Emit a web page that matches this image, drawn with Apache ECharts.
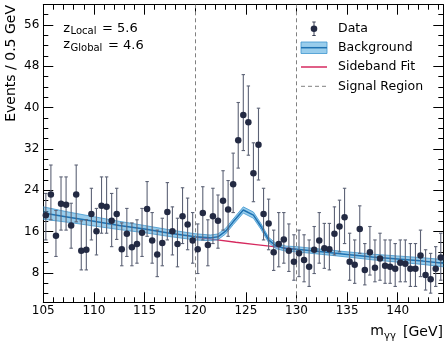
<!DOCTYPE html>
<html>
<head>
<meta charset="utf-8">
<script src="https://cdn.jsdelivr.net/npm/echarts@6/dist/echarts.min.js"></script>
<style>
  html, body { margin: 0; padding: 0; background: #fff; }
  #chart { width: 448px; height: 344px; }
</style>
</head>
<body>
<div id="chart"></div>
<script>
// diphoton mass spectrum, 0.5 GeV bins
const massBins = [105.25,105.75,106.25,106.75,107.25,107.75,108.25,108.75,109.25,109.75,
  110.25,110.75,111.25,111.75,112.25,112.75,113.25,113.75,114.25,114.75,
  115.25,115.75,116.25,116.75,117.25,117.75,118.25,118.75,119.25,119.75,
  120.25,120.75,121.25,121.75,122.25,122.75,123.25,123.75,124.25,124.75,
  125.25,125.75,126.25,126.75,127.25,127.75,128.25,128.75,129.25,129.75,
  130.25,130.75,131.25,131.75,132.25,132.75,133.25,133.75,134.25,134.75,
  135.25,135.75,136.25,136.75,137.25,137.75,138.25,138.75,139.25,139.75,
  140.25,140.75,141.25,141.75,142.25,142.75,143.25,143.75,144.25]
const events = [19.2,23.2,15.2,21.4,21.2,17.2,23.2,12.3,12.5,19.4,
  16.1,21.0,20.8,18.1,19.4,12.6,15.6,13.0,13.6,15.8,
  20.4,14.3,11.6,13.8,19.8,16.1,13.6,19.0,17.4,14.3,
  12.6,19.6,13.4,19.0,18.1,22.0,20.3,25.2,33.7,38.6,
  37.2,27.3,32.8,19.4,17.6,12.0,13.6,14.5,12.3,10.2,
  11.8,10.5,9.2,12.5,14.3,12.8,12.6,15.6,17.0,18.8,
  10.2,9.6,16.5,8.6,12.0,9.0,10.8,9.4,9.2,8.8,
  10.0,9.8,8.8,8.8,11.4,7.6,6.8,8.8,11.0]
const errLow = [14.4,18.3,11.2,16.3,16.3,12.8,17.9,8.6,8.6,14.4,
  11.5,15.7,15.7,13.1,14.5,9.4,11.2,9.4,9.9,11.2,
  15.1,9.9,7.3,9.4,14.4,11.5,9.2,13.7,12.5,9.9,
  7.9,14.4,9.4,13.7,12.8,16.3,15.1,19.7,28.3,31.7,
  30.8,21.8,26.0,14.4,12.5,8.5,9.2,9.9,8.3,6.6,
  7.3,6.3,5.4,7.9,9.9,8.9,8.6,11.5,12.1,13.7,
  6.6,6.0,11.8,5.7,7.6,6.3,6.6,6.0,6.0,5.4,
  6.3,6.3,5.4,5.4,7.3,4.7,4.1,5.4,6.6]
const errHigh = [23.4,28.9,20.1,26.6,26.6,21.5,28.9,18.1,18.3,24.4,
  20.5,26.6,26.6,23.4,24.4,17.7,20.5,17.7,18.3,20.5,
  25.7,19.7,16.3,18.6,25.5,20.8,18.6,24.5,22.5,19.7,
  17.5,24.7,18.3,24.4,23.1,27.8,25.9,31.2,41.0,46.4,
  44.2,33.2,39.9,24.4,22.3,16.3,19.7,19.7,17.5,15.4,
  16.3,15.4,14.4,17.0,19.7,17.6,17.6,20.8,22.1,24.4,
  15.7,14.4,21.0,13.7,17.0,14.4,15.7,14.4,14.4,13.7,
  14.4,14.4,13.7,13.7,16.3,12.5,11.8,13.1,15.7]

// background model (signal + continuum) with its uncertainty band
const bgMass = [105,107.5,110,112.5,115,117.5,120,121.5,122.25,123,123.75,124.75,125.75,126.5,127.25,128,129,130,132.5,135,137.5,140,142.5,144.5]
const bgCentral = [19.6,18.8,18.0,17.2,16.5,15.7,15.0,14.8,15.0,16.1,17.9,20.2,19.2,17.0,14.4,13.2,12.7,12.6,12.1,11.6,11.1,10.7,10.3,9.9]
const bgLow = [18.4,17.8,17.1,16.4,15.8,15.05,14.4,14.25,14.45,15.55,17.35,19.6,18.6,16.45,13.9,12.7,12.2,12.1,11.6,11.1,10.55,10.1,9.65,9.2]
const bgHigh = [20.8,19.8,18.9,18.0,17.2,16.35,15.6,15.35,15.55,16.65,18.45,20.8,19.8,17.55,14.9,13.7,13.2,13.1,12.6,12.1,11.65,11.3,10.95,10.6]

// sideband-only fit inside the signal window
const sbMass = [120,122,124,126,128,130]
const sbFit = [14.95,14.45,13.95,13.5,13.05,12.6]

const signalEdges = [120, 130]

const xTicks = [105,110,115,120,125,130,135,140]
const xMinorTicks = [106,107,108,109,111,112,113,114,116,117,118,119,121,122,123,124,126,127,128,129,131,132,133,134,136,137,138,139,141,142,143,144]
const yTicks = [8,16,24,32,40,48,56]
const yMinorTicks = [4,6,10,12,14,18,20,22,26,28,30,34,36,38,42,44,46,50,52,54,58]

const X_MIN = 105, X_MAX = 144.5
const Y_MIN = 2.33, Y_MAX = 59.93
const FONT = '"DejaVu Sans"'
const BLUE = '#1f72b2'
const BAND = 'rgba(80, 168, 222, 0.58)'
const BAND_EDGE = '#3c95cf'
const RED = '#d62a5f'
const DOT = '#232a43'
const BAR = '#5d6376'

function makeAxis(kind, position, ticks, len, withLabels, withLine) {
  const ax = {
    type: 'value',
    position,
    min: kind === 'x' ? X_MIN : Y_MIN,
    max: kind === 'x' ? X_MAX : Y_MAX,
    splitLine: { show: false },
    axisLine: { show: withLine, onZero: false, lineStyle: { color: '#000', width: 1 } },
    axisTick: {
      show: true, inside: true, length: len, customValues: ticks,
      lineStyle: { color: '#000', width: 1 },
    },
    axisLabel: { show: false },
  }
  if (withLabels) {
    ax.axisLabel = {
      show: true, customValues: ticks, color: '#000',
      fontFamily: 'DejaVu Sans', fontSize: 12, margin: kind === 'x' ? 3 : 4,
    }
  }
  return ax
}

const chart = echarts.init(document.getElementById('chart'), null, { renderer: 'canvas' })

function txt(text, x, y, size, align, valign, extra) {
  return Object.assign({
    type: 'text', x, y, silent: true,
    style: {
      text, fill: '#000', font: size + 'px ' + FONT,
      align, textAlign: align, verticalAlign: valign, textVerticalAlign: valign,
    },
  }, extra || {})
}

const legendX = 301, legendW = 26, legendTextX = 338
const graphics = [
  // legend: data marker
  { type: 'line', silent: true, shape: { x1: 314, y1: 22, x2: 314, y2: 35.5 }, style: { stroke: '#3a4055', lineWidth: 1 } },
  { type: 'line', silent: true, shape: { x1: 312.3, y1: 22, x2: 315.7, y2: 22 }, style: { stroke: '#3a4055', lineWidth: 1 } },
  { type: 'line', silent: true, shape: { x1: 312.3, y1: 35.5, x2: 315.7, y2: 35.5 }, style: { stroke: '#3a4055', lineWidth: 1 } },
  { type: 'circle', silent: true, shape: { cx: 314, cy: 28.7, r: 3.3 }, style: { fill: DOT } },
  // legend: background
  { type: 'rect', silent: true, shape: { x: legendX, y: 42, width: legendW, height: 11.5 }, style: { fill: BAND, stroke: BAND_EDGE, lineWidth: 0.8 } },
  { type: 'line', silent: true, shape: { x1: legendX, y1: 47.7, x2: legendX + legendW, y2: 47.7 }, style: { stroke: BLUE, lineWidth: 1.5 } },
  // legend: sideband fit
  { type: 'line', silent: true, shape: { x1: legendX, y1: 67, x2: legendX + legendW, y2: 67 }, style: { stroke: RED, lineWidth: 1.5 } },
  // legend: signal region
  { type: 'line', silent: true, shape: { x1: legendX, y1: 86.3, x2: legendX + legendW, y2: 86.3 }, style: { stroke: '#808080', lineWidth: 1, lineDash: [4, 3] } },
  txt('Data', legendTextX, 28.7, 12.5, 'left', 'middle'),
  txt('Background', legendTextX, 48, 12.5, 'left', 'middle'),
  txt('Sideband Fit', legendTextX, 67, 12.5, 'left', 'middle'),
  txt('Signal Region', legendTextX, 86.7, 12.5, 'left', 'middle'),
  // significances
  txt('z', 63.3, 28.5, 13, 'left', 'middle'),
  txt('Local', 70.5, 31.5, 10, 'left', 'middle'),
  txt('= 5.6', 102, 29, 13, 'left', 'middle'),
  txt('z', 63.3, 44.8, 13, 'left', 'middle'),
  txt('Global', 70.5, 48, 10, 'left', 'middle'),
  txt('= 4.6', 108, 45.5, 13, 'left', 'middle'),
  // axis titles
  txt('Events / 0.5 GeV', 11, 5, 14, 'right', 'middle', { rotation: Math.PI / 2 }),
  txt('[GeV]', 443, 332.5, 14, 'right', 'middle'),
  txt('γγ', 384, 336, 10, 'left', 'middle'),
  txt('m', 384, 331, 14, 'right', 'middle'),
]

const option = {
  animation: false,
  backgroundColor: '#fff',
  grid: { left: 43.3, right: 4.7, top: 4.7, bottom: 41.7, containLabel: false },
  xAxis: [
    makeAxis('x', 'bottom', xTicks, 10, true, true),
    makeAxis('x', 'bottom', xMinorTicks, 5, false, false),
    makeAxis('x', 'top', xTicks, 10, false, true),
    makeAxis('x', 'top', xMinorTicks, 5, false, false),
  ],
  yAxis: [
    makeAxis('y', 'left', yTicks, 10, true, true),
    makeAxis('y', 'left', yMinorTicks, 5, false, false),
    makeAxis('y', 'right', yTicks, 10, false, true),
    makeAxis('y', 'right', yMinorTicks, 5, false, false),
  ],
  graphic: { elements: graphics },
  series: [
    {
      name: 'Sideband Fit',
      type: 'line',
      data: sbMass.map((m, i) => [m, sbFit[i]]),
      symbol: 'none',
      lineStyle: { color: RED, width: 1.4 },
      z: 2,
    },
    {
      name: 'Background band',
      type: 'custom',
      data: [[bgMass[0], bgCentral[0]]],
      clip: true,
      z: 3,
      renderItem(params, api) {
        if (params.dataIndex !== 0) return
        const top = bgMass.map((m, i) => api.coord([m, bgHigh[i]]))
        const bottom = bgMass.map((m, i) => api.coord([m, bgLow[i]]))
        return {
          type: 'group',
          children: [
            { type: 'polygon', shape: { points: top.concat(bottom.slice().reverse()) }, style: { fill: BAND } },
            { type: 'polyline', shape: { points: top }, style: { stroke: BAND_EDGE, lineWidth: 0.8, fill: null } },
            { type: 'polyline', shape: { points: bottom }, style: { stroke: BAND_EDGE, lineWidth: 0.8, fill: null } },
          ],
        }
      },
    },
    {
      name: 'Background',
      type: 'line',
      data: bgMass.map((m, i) => [m, bgCentral[i]]),
      symbol: 'none',
      lineStyle: { color: BLUE, width: 1.5 },
      z: 4,
      markLine: {
        silent: true,
        symbol: ['none', 'none'],
        label: { show: false },
        lineStyle: { color: '#808080', width: 1, type: [4, 3] },
        data: signalEdges.map(v => ({ xAxis: v })),
      },
    },
    {
      name: 'Data errors',
      type: 'custom',
      data: massBins.map((m, i) => [m, errLow[i], errHigh[i]]),
      encode: { x: 0, y: [1, 2] },
      z: 5,
      renderItem(params, api) {
        const lo = api.coord([api.value(0), api.value(1)])
        const hi = api.coord([api.value(0), api.value(2)])
        const st = { stroke: BAR, lineWidth: 1.1 }
        return {
          type: 'group',
          children: [
            { type: 'line', shape: { x1: lo[0], y1: lo[1], x2: hi[0], y2: hi[1] }, style: st },
            { type: 'line', shape: { x1: lo[0] - 1.7, y1: lo[1], x2: lo[0] + 1.7, y2: lo[1] }, style: st },
            { type: 'line', shape: { x1: hi[0] - 1.7, y1: hi[1], x2: hi[0] + 1.7, y2: hi[1] }, style: st },
          ],
        }
      },
    },
    {
      name: 'Data',
      type: 'scatter',
      data: massBins.map((m, i) => [m, events[i]]),
      symbol: 'circle',
      symbolSize: 6.5,
      itemStyle: { color: DOT, opacity: 1 },
      z: 6,
    },
  ],
}

chart.setOption(option)
</script>
</body>
</html>
